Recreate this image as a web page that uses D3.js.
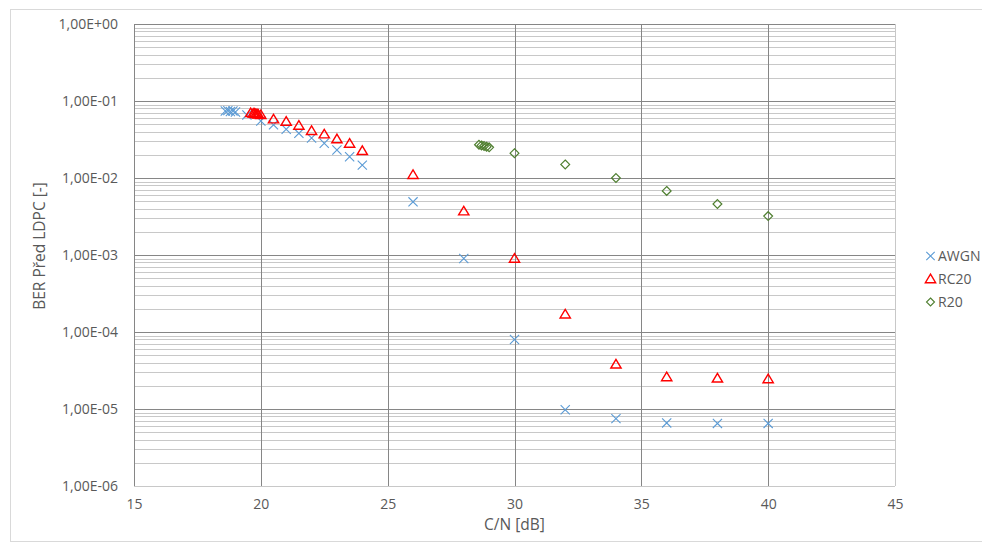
<!DOCTYPE html>
<html>
<head>
<meta charset="utf-8">
<script src="https://cdn.jsdelivr.net/npm/d3@7"></script>
<style>
  html, body { margin: 0; padding: 0; background: #fff; }
  svg { display: block; font-family: "Open Sans", "Noto Sans", sans-serif; }
</style>
</head>
<body>
<svg id="chart" width="982" height="544"></svg>
<script>
// Series data: C/N [dB] and BER before LDPC
const awgnX = [18.6, 18.7, 18.8, 18.9, 19.0, 19.45, 20, 20.5, 21, 21.5, 22, 22.5, 23, 23.5, 24, 26, 28, 30, 32, 34, 36, 38, 40];
const awgnY = [7.4e-2, 7.5e-2, 7.3e-2, 7.4e-2, 7.2e-2, 6.6e-2, 5.5e-2, 4.9e-2, 4.3e-2, 3.8e-2, 3.3e-2, 2.83e-2, 2.31e-2, 1.89e-2, 1.47e-2, 4.9e-3, 9.0e-4, 8.0e-5, 9.8e-6, 7.5e-6, 6.6e-6, 6.5e-6, 6.5e-6];

const rc20X = [19.6, 19.7, 19.75, 19.8, 19.85, 19.9, 20.0, 20.5, 21, 21.5, 22, 22.5, 23, 23.5, 24, 26, 28, 30, 32, 34, 36, 38, 40];
const rc20Y = [7.0e-2, 6.9e-2, 6.9e-2, 6.8e-2, 6.8e-2, 6.7e-2, 6.6e-2, 5.8e-2, 5.4e-2, 4.8e-2, 4.1e-2, 3.7e-2, 3.2e-2, 2.8e-2, 2.25e-2, 1.1e-2, 3.7e-3, 9.0e-4, 1.7e-4, 3.8e-5, 2.6e-5, 2.5e-5, 2.45e-5];

const r20X = [28.6, 28.7, 28.8, 28.9, 29.0, 30, 32, 34, 36, 38, 40];
const r20Y = [2.7e-2, 2.65e-2, 2.6e-2, 2.55e-2, 2.5e-2, 2.1e-2, 1.5e-2, 1.0e-2, 6.8e-3, 4.6e-3, 3.2e-3];

const xTicks = [15, 20, 25, 30, 35, 40, 45];
const yTicks = [1e0, 1e-1, 1e-2, 1e-3, 1e-4, 1e-5, 1e-6];
const yTickLabels = ["1,00E+00", "1,00E-01", "1,00E-02", "1,00E-03", "1,00E-04", "1,00E-05", "1,00E-06"];

const seriesNames = ["AWGN", "RC20", "R20"];
const seriesColors = ["#5b9bd5", "#ff0000", "#4f7f30"];

const svg = d3.select("#chart");
const W = 982, H = 544;
const plot = { left: 134, right: 895, top: 24, bottom: 486 };
const textColor = "#595959";

// chart frame
svg.append("rect")
  .attr("x", 10.5).attr("y", 9.5)
  .attr("width", W - 10).attr("height", H - 12)
  .attr("fill", "#fff").attr("stroke", "#d9d9d9").attr("stroke-width", 1);

const x = d3.scaleLinear().domain([15, 45]).range([plot.left, plot.right]);
const y = d3.scaleLog().domain([1e-6, 1]).range([plot.bottom, plot.top]);

const grid = svg.append("g");

// minor horizontal gridlines (2..9 within each decade)
const minorVals = [];
for (let e = -6; e < 0; e++) {
  for (let m = 2; m <= 9; m++) minorVals.push(m * Math.pow(10, e));
}
grid.selectAll("line.minor").data(minorVals).enter().append("line")
  .attr("class", "minor")
  .attr("x1", plot.left).attr("x2", plot.right)
  .attr("y1", d => Math.round(y(d)) + 0.5).attr("y2", d => Math.round(y(d)) + 0.5)
  .attr("stroke", "#c8c8c8").attr("stroke-width", 1);

// major horizontal gridlines
grid.selectAll("line.majorH").data(yTicks.slice(0, -1)).enter().append("line")
  .attr("class", "majorH")
  .attr("x1", plot.left).attr("x2", plot.right)
  .attr("y1", d => Math.round(y(d)) + 0.5).attr("y2", d => Math.round(y(d)) + 0.5)
  .attr("stroke", "#868686").attr("stroke-width", 1);

// vertical gridlines
grid.selectAll("line.majorV").data(xTicks.slice(1, -1)).enter().append("line")
  .attr("class", "majorV")
  .attr("x1", d => Math.round(x(d)) + 0.5).attr("x2", d => Math.round(x(d)) + 0.5)
  .attr("y1", plot.top).attr("y2", plot.bottom)
  .attr("stroke", "#868686").attr("stroke-width", 1);

// right and bottom plot edges
grid.append("line")
  .attr("x1", Math.round(x(45)) + 0.5).attr("x2", Math.round(x(45)) + 0.5)
  .attr("y1", plot.top).attr("y2", plot.bottom)
  .attr("stroke", "#c8c8c8");
grid.append("line")
  .attr("x1", plot.left).attr("x2", plot.right)
  .attr("y1", Math.round(y(1e-6)) + 0.5).attr("y2", Math.round(y(1e-6)) + 0.5)
  .attr("stroke", "#c8c8c8");
// left axis line
grid.append("line")
  .attr("x1", Math.round(x(15)) + 0.5).attr("x2", Math.round(x(15)) + 0.5)
  .attr("y1", plot.top).attr("y2", plot.bottom)
  .attr("stroke", "#868686");

// axis tick labels via d3 axes
const xAxis = d3.axisBottom(x).tickValues(xTicks).tickSize(0).tickPadding(13).tickFormat(d3.format("d"));
const gx = svg.append("g").attr("transform", `translate(0,${plot.bottom})`).call(xAxis);
gx.select(".domain").remove();
gx.selectAll("text").attr("fill", textColor).style("font-size", "14px").style("font-family", "'Open Sans', sans-serif");

const yAxis = d3.axisLeft(y).tickValues(yTicks).tickSize(0).tickPadding(16)
  .tickFormat((d, i) => yTickLabels[i]);
const gy = svg.append("g").attr("transform", `translate(${plot.left},0)`).call(yAxis);
gy.select(".domain").remove();
gy.selectAll("text").attr("fill", textColor).style("font-size", "14px").style("font-family", "'Open Sans', sans-serif");

// axis titles
svg.append("text")
  .attr("x", (plot.left + plot.right) / 2).attr("y", 530)
  .attr("text-anchor", "middle").attr("fill", textColor)
  .style("font-size", "15.5px").text("C/N [dB]");
svg.append("text")
  .attr("transform", "translate(45,246) rotate(-90)")
  .attr("text-anchor", "middle").attr("fill", textColor)
  .style("font-size", "15.5px").text("BER Před LDPC [-]");

// marker shapes
function crossPath(s) { return `M${-s},${-s}L${s},${s}M${-s},${s}L${s},${-s}`; }
function triPath(s) { return `M0,${-s}L${s * 1.05},${s * 0.75}L${-s * 1.05},${s * 0.75}Z`; }
function diaPath(s) { return `M0,${-s}L${s},0L0,${s}L${-s},0Z`; }

const marks = svg.append("g");

marks.selectAll("path.awgn").data(d3.zip(awgnX, awgnY)).enter().append("path")
  .attr("class", "awgn")
  .attr("transform", d => `translate(${x(d[0])},${y(d[1])})`)
  .attr("d", crossPath(4.6))
  .attr("fill", "none").attr("stroke", seriesColors[0]).attr("stroke-width", 1.1);

marks.selectAll("path.rc20").data(d3.zip(rc20X, rc20Y)).enter().append("path")
  .attr("class", "rc20")
  .attr("transform", d => `translate(${x(d[0])},${y(d[1])})`)
  .attr("d", triPath(4.9))
  .attr("fill", "none").attr("stroke", seriesColors[1]).attr("stroke-width", 1.4);

marks.selectAll("path.r20").data(d3.zip(r20X, r20Y)).enter().append("path")
  .attr("class", "r20")
  .attr("transform", d => `translate(${x(d[0])},${y(d[1])})`)
  .attr("d", diaPath(4.4))
  .attr("fill", "none").attr("stroke", seriesColors[2]).attr("stroke-width", 1.2);

// legend
const legend = svg.append("g").attr("transform", "translate(930.5,256)");
const shapes = [crossPath(4.2), triPath(4.9), diaPath(4)];
seriesNames.forEach((name, i) => {
  const g = legend.append("g").attr("transform", `translate(0,${i * 23})`);
  g.append("path").attr("d", shapes[i])
    .attr("fill", "none").attr("stroke", seriesColors[i]).attr("stroke-width", i === 1 ? 1.4 : 1.1);
  g.append("text").attr("x", 7.5).attr("y", 5)
    .attr("fill", textColor).style("font-size", "14px").text(name);
});
</script>
</body>
</html>
